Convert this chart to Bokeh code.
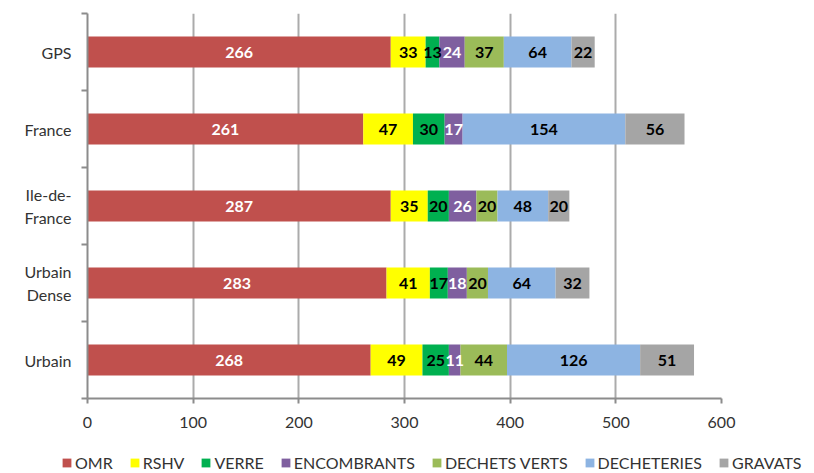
from bokeh.plotting import figure
from bokeh.layouts import column, row
from bokeh.models import (ColumnDataSource, FixedTicker, Legend, LegendItem, Range1d)
from bokeh.core.properties import value
from bokeh.embed import file_html
from bokeh.resources import INLINE

# ---- data (top to bottom as in the chart) ----
categories = ["GPS", "France", "Ile-de-France", "Urbain Dense", "Urbain"]
category_labels = ["GPS", "France", "Ile-de-\nFrance", "Urbain\nDense", "Urbain"]
series_names = ["OMR", "RSHV", "VERRE", "ENCOMBRANTS", "DECHETS VERTS", "DECHETERIES", "GRAVATS"]
omr = [287, 261, 287, 283, 268]
omr_labels = ["266", "261", "287", "283", "268"]
rshv = [33, 47, 35, 41, 49]
verre = [13, 30, 20, 17, 25]
encombrants = [24, 17, 26, 18, 11]
dechets_verts = [37, 0, 20, 20, 44]
decheteries = [64, 154, 48, 64, 126]
gravats = [22, 56, 20, 32, 51]
x_ticks = [0, 100, 200, 300, 400, 500, 600]

colors = ["#C0504D", "#FFFF00", "#00B050", "#7F5F9F", "#9BBB59", "#8DB4E2", "#A5A5A5"]
label_colors = ["white", "black", "black", "white", "black", "black", "black"]

series = [omr, rshv, verre, encombrants, dechets_verts, decheteries, gravats]
n = len(categories)
ypos = [n - 1 - i for i in range(n)]

data = {"y": ypos}
for name, vals in zip(series_names, series):
    data[name] = vals
source = ColumnDataSource(data)

FONT = "Lato"

p = figure(width=814, height=440, output_backend="svg", toolbar_location=None,
           x_range=Range1d(0, 600), y_range=Range1d(-0.5, n - 0.5),
           min_border_left=87, min_border_right=93, min_border_top=13, min_border_bottom=42)
p.outline_line_color = None
p.background_fill_color = "white"
p.border_fill_color = "white"

renderers = p.hbar_stack(series_names, y="y", height=0.4, source=source,
                         color=colors, line_color=None)

# data labels
for si, (name, vals) in enumerate(zip(series_names, series)):
    xs, ys, texts = [], [], []
    for ci in range(n):
        left = sum(series[k][ci] for k in range(si))
        v = vals[ci]
        if v <= 0:
            continue
        xs.append(left + v / 2)
        ys.append(ypos[ci])
        texts.append(omr_labels[ci] if si == 0 else str(v))
    p.text(x=xs, y=ys, text=texts, text_align="center", text_baseline="middle",
           text_font=value(FONT), text_font_style="bold", text_font_size="16px",
           text_color=label_colors[si])

# x axis
p.xaxis.ticker = FixedTicker(ticks=x_ticks)
p.xaxis.axis_line_color = "#8C8C8C"
p.xaxis.axis_line_width = 2
p.xaxis.major_tick_line_color = "#8C8C8C"
p.xaxis.major_tick_line_width = 2
p.xaxis.major_tick_out = 5
p.xaxis.major_tick_in = 0
p.xaxis.minor_tick_line_color = None
p.xaxis.major_label_standoff = 13
p.xaxis.major_label_text_font = FONT
p.xaxis.major_label_text_font_size = "16px"
p.xaxis.major_label_text_color = "#333333"

# y axis
p.yaxis.ticker = FixedTicker(ticks=ypos, minor_ticks=[i - 0.5 for i in range(n + 1)])
p.yaxis.major_label_overrides = {ypos[i]: category_labels[i] for i in range(n)}
p.yaxis.axis_line_color = "#8C8C8C"
p.yaxis.axis_line_width = 2
p.yaxis.major_tick_line_color = None
p.yaxis.major_tick_out = 0
p.yaxis.major_tick_in = 0
p.yaxis.minor_tick_line_color = "#8C8C8C"
p.yaxis.minor_tick_line_width = 2
p.yaxis.minor_tick_out = 6
p.yaxis.minor_tick_in = 0
p.yaxis.major_label_standoff = 10
p.yaxis.major_label_text_font = FONT
p.yaxis.major_label_text_font_size = "16px"
p.yaxis.major_label_text_color = "#333333"

# grid
p.xgrid.ticker = FixedTicker(ticks=x_ticks)
p.xgrid.grid_line_color = "#ABABAB"
p.xgrid.grid_line_width = 2
p.ygrid.visible = False

# legend strip (separate small figure below the chart; its bars lie outside its view)
lg = figure(width=814, height=33, output_backend="svg", toolbar_location=None,
            x_range=Range1d(0, 1), y_range=Range1d(100, 101), min_border=0)
lg.axis.visible = False
lg.grid.visible = False
lg.outline_line_color = None
lg.border_fill_color = "white"
lg.background_fill_color = "white"
legend_renderers = [lg.hbar(y="y", right=nm, height=0.4, source=source, color=c, line_color=None)
                    for nm, c in zip(series_names, colors)]
legend = Legend(items=[LegendItem(label=nm, renderers=[r]) for nm, r in zip(series_names, legend_renderers)],
                orientation="horizontal", location=(61, 1),
                padding=0, margin=0, spacing=16, label_standoff=3,
                glyph_width=11, glyph_height=11,
                label_text_font=FONT, label_text_font_size="16px", label_text_color="#333333",
                border_line_color=None, background_fill_alpha=0)
lg.add_layout(legend)

open("out.html", "w").write(file_html(column(p, row(lg), spacing=0), INLINE))
